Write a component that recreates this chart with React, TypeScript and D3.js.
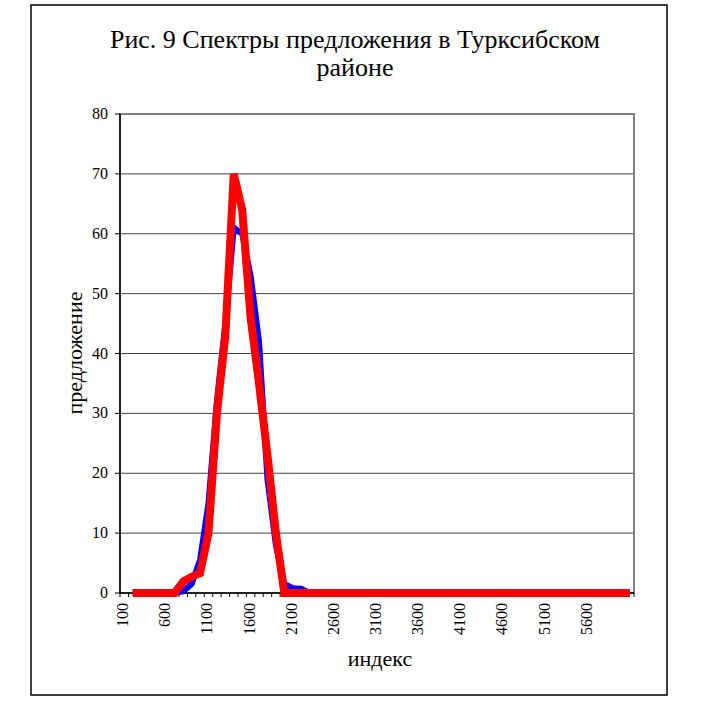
import * as d3 from 'd3';
import React from 'react';

// categories 100..6100 step 100
const categories = [
  100, 200, 300, 400, 500, 600, 700, 800, 900, 1000, 1100, 1200, 1300, 1400, 1500, 1600, 1700, 1800, 1900, 2000,
  2100, 2200, 2300, 2400, 2500, 2600, 2700, 2800, 2900, 3000, 3100, 3200, 3300, 3400, 3500, 3600, 3700, 3800, 3900, 4000,
  4100, 4200, 4300, 4400, 4500, 4600, 4700, 4800, 4900, 5000, 5100, 5200, 5300, 5400, 5500, 5600, 5700, 5800, 5900, 6000,
  6100,
];

const blueValues = [
  null, 0, 0, 0, 0, 0, 0, 0.3, 1.5, 5.5, 15, 32, 45, 61, 60, 53, 42, 19, 8, 1.5,
  0.8, 0.7, 0, 0, 0, 0, 0, 0, 0, 0, 0, 0, 0, 0, 0, 0, 0, 0, 0, 0,
  0, 0, 0, 0, 0, 0, 0, 0, 0, 0, 0, 0, 0, 0, 0, 0, 0, 0, 0, 0,
  0,
];

const redValues = [
  null, 0, 0, 0, 0, 0, 0, 1.9, 2.7, 3.3, 10, 30, 43, 70, 64, 46, 35, 23, 10, 0,
  0, 0, 0, 0, 0, 0, 0, 0, 0, 0, 0, 0, 0, 0, 0, 0, 0, 0, 0, 0,
  0, 0, 0, 0, 0, 0, 0, 0, 0, 0, 0, 0, 0, 0, 0, 0, 0, 0, 0, 0,
  0,
];

const yTicks = [0, 10, 20, 30, 40, 50, 60, 70, 80];
const xTickLabels = [100, 600, 1100, 1600, 2100, 2600, 3100, 3600, 4100, 4600, 5100, 5600];

const titleLines = ['Рис. 9 Спектры предложения в Турксибском', 'районе'];

const font = '"Liberation Serif", "DejaVu Serif", serif';

const App = () => {
  const width = 705;
  const height = 723;
  const plot = { left: 120, right: 634, top: 114, bottom: 593 };

  const x = d3.scaleBand<number>().domain(categories).range([plot.left, plot.right]).padding(0);
  const y = d3.scaleLinear().domain([0, 80]).range([plot.bottom, plot.top]);
  const cx = (c: number) => (x(c) as number) + x.bandwidth() / 2;

  const line = d3
    .line<number | null>()
    .defined((d) => d !== null)
    .x((d, i) => cx(categories[i]))
    .y((d) => y(d as number));

  const boundaries = categories.map((c) => x(c) as number).concat([plot.right]);

  return (
    <svg width={width} height={height} style={{ position: 'absolute', left: 0, top: 0, background: '#fff' }}>
      <rect x={31} y={5} width={636} height={690} fill="#fff" stroke="#000" strokeWidth={1.5} />

      {titleLines.map((t, i) => (
        <text key={i} x={355} y={48 + i * 28} textAnchor="middle" fontFamily={font} fontSize={26} fill="#000">
          {t}
        </text>
      ))}

      {/* gridlines */}
      {yTicks.slice(1, -1).map((v) => (
        <line key={v} x1={plot.left} x2={plot.right} y1={y(v)} y2={y(v)} stroke="#444" strokeWidth={1} />
      ))}

      {/* plot border */}
      <rect
        x={plot.left}
        y={plot.top}
        width={plot.right - plot.left}
        height={plot.bottom - plot.top}
        fill="none"
        stroke="#808080"
        strokeWidth={2}
      />

      {/* y axis */}
      <line x1={plot.left} x2={plot.left} y1={plot.top} y2={plot.bottom} stroke="#000" strokeWidth={1.5} />
      {yTicks.map((v) => (
        <g key={v}>
          <line x1={plot.left - 5} x2={plot.left} y1={y(v)} y2={y(v)} stroke="#000" strokeWidth={1} />
          <text x={108} y={y(v) + 5} textAnchor="end" fontFamily={font} fontSize={16} fill="#000">
            {v}
          </text>
        </g>
      ))}

      {/* x axis */}
      <line x1={plot.left} x2={plot.right} y1={plot.bottom} y2={plot.bottom} stroke="#000" strokeWidth={1.5} />
      {boundaries.map((b, i) => (
        <line key={i} x1={b} x2={b} y1={plot.bottom} y2={plot.bottom + 4} stroke="#000" strokeWidth={1} />
      ))}
      {xTickLabels.map((c) => (
        <text
          key={c}
          transform={`translate(${cx(c) + 4},${plot.bottom + 10}) rotate(-90)`}
          textAnchor="end"
          fontFamily={font}
          fontSize={16}
          fill="#000"
        >
          {c}
        </text>
      ))}

      {/* series */}
      <path d={line(blueValues) || ''} fill="none" stroke="#0000ff" strokeWidth={6} strokeLinejoin="miter" />
      <path d={line(redValues) || ''} fill="none" stroke="#ff0000" strokeWidth={8} strokeLinejoin="miter" />

      {/* axis titles */}
      <text
        transform={`translate(82,353) rotate(-90)`}
        textAnchor="middle"
        fontFamily={font}
        fontSize={22}
        fill="#000"
      >
        предложение
      </text>
      <text x={380} y={666} textAnchor="middle" fontFamily={font} fontSize={22} fill="#000">
        индекс
      </text>
    </svg>
  );
};

export default App;
